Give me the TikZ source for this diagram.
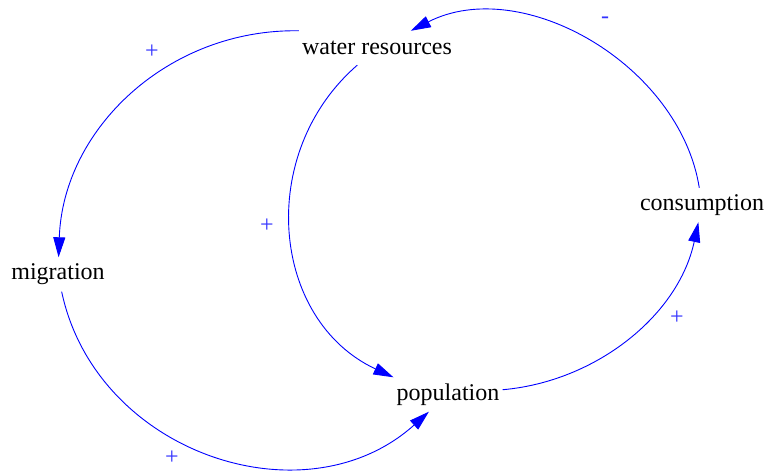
\documentclass[tikz,border=0pt]{standalone}
\usepackage{fontspec}
\setmainfont{Liberation Serif}
\usetikzlibrary{arrows.meta}

\begin{document}
\begin{tikzpicture}[x=1pt,y=1pt,
    var/.style={font=\fontsize{24}{28}\selectfont, inner xsep=3pt, inner ysep=0pt, minimum height=34pt},
    link/.style={blue, line width=0.9pt, -{Triangle[length=20pt,width=12pt]}},
    sign/.style={blue!80!white, inner sep=0pt, font=\fontsize{24}{26}\selectfont}]
  \useasboundingbox (0,0) rectangle (767,472);
  % variables
  \node[var] (water) at (377,424) {water resources};
  \node[var] (migration) at (58,197.5) {migration};
  \node[var] (population) at (448,77.5) {population};
  \node[var] (consumption) at (702,267) {consumption};
  % causal links
  \draw[link] (water.north west) to[out=179,in=88] (migration);
  \draw[link] (migration) to[out=-78,in=222,looseness=1.1] (population);
  \draw[link] (water) to[out=221,in=155,looseness=1.1] (population.north west);
  \draw[link] (population) to[out=5,in=258,looseness=0.94] (consumption);
  \draw[link] (consumption) to[out=99,in=27,looseness=0.97] (water);
  % polarities
  \node[sign] (s1) at (152,420) {+};
  \node[sign] (s2) at (172,14) {+};
  \node[sign] (s3) at (267,246) {+};
  \node[sign] (s4) at (677,154) {+};
  \node[sign] (s5) at (605,452) {-};
\end{tikzpicture}
\end{document}
